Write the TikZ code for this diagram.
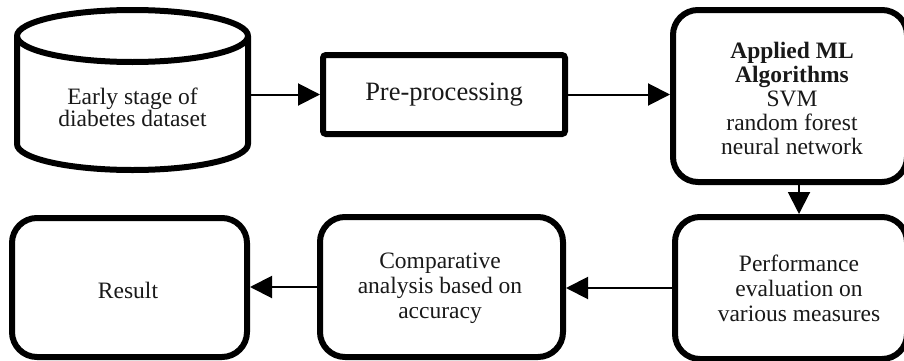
\documentclass[tikz,border=0pt]{standalone}
\usepackage{fontspec}
\setmainfont{Liberation Serif}
\usetikzlibrary{arrows.meta}

\begin{document}
\begin{tikzpicture}[x=1pt,y=1pt,
  boxstyle/.style={draw, line width=6pt, fill=white, align=center, inner sep=0pt,
    font=\fontsize{23.5}{25}\selectfont},
  roundbox/.style={boxstyle, rounded corners=25pt},
  label/.style={align=center, inner sep=0pt, text=black!90, font=\fontsize{23.5}{25}\selectfont},
  cylline/.style={line width=6pt, line join=round},
  arr/.style={line width=2pt, -{Triangle[length=22pt,width=22pt]}}]

\clip (0,0) rectangle (904,360);

% database cylinder
\draw[cylline, fill=white] (17,324) -- (17,216)
  arc[start angle=180, end angle=360, x radius=115.5, y radius=26] -- (248,324);
\draw[cylline] (132.5,324) ellipse[x radius=115.5, y radius=26];
\node[draw=none, minimum width=231pt, minimum height=160pt, inner sep=0pt, outer sep=0pt]
  (data) at (132.5,270) {};
\node[label, font=\fontsize{23.5}{22}\selectfont] (datatext) at (132.5,253)
  {Early stage of\\diabetes dataset};

% process boxes
\node[boxstyle, rounded corners=3pt, minimum width=242pt, minimum height=79pt,
  text=black!90, font=\fontsize{26.5}{30}\selectfont] (pre) at (444,265.5) {Pre-processing};
\node[roundbox, minimum width=234pt, minimum height=172pt] (ml) at (790,264) {};
\node[label, font=\fontsize{23.5}{24}\selectfont] (mltext) at (792,262)
  {\textbf{Applied ML}\\\textbf{Algorithms}\\SVM\\random forest\\neural network};
\node[roundbox, minimum width=232pt, minimum height=142pt] (perf) at (791,72) {};
\node[label] (perftext) at (799,72) {Performance\\evaluation on\\various measures};
\node[roundbox, minimum width=243pt, minimum height=140pt] (comp) at (441.5,73) {};
\node[label] (comptext) at (440,72) {Comparative\\analysis based on\\accuracy};
\node[roundbox, minimum width=235pt, minimum height=139pt] (result) at (129.5,72.5) {};
\node[label] (resulttext) at (128,70) {Result};

% connectors
\draw[arr] (pre.west -| data.east) -- (pre.west);
\draw[arr] (pre.east) -- (pre.east -| ml.west);
\draw[arr] ([xshift=9pt]ml.south) -- ([xshift=9pt]ml.south |- perf.north);
\draw[arr] (perf.west) -- (perf.west -| comp.east);
\draw[arr] (comp.west) -- (comp.west -| result.east);
\end{tikzpicture}
\end{document}
